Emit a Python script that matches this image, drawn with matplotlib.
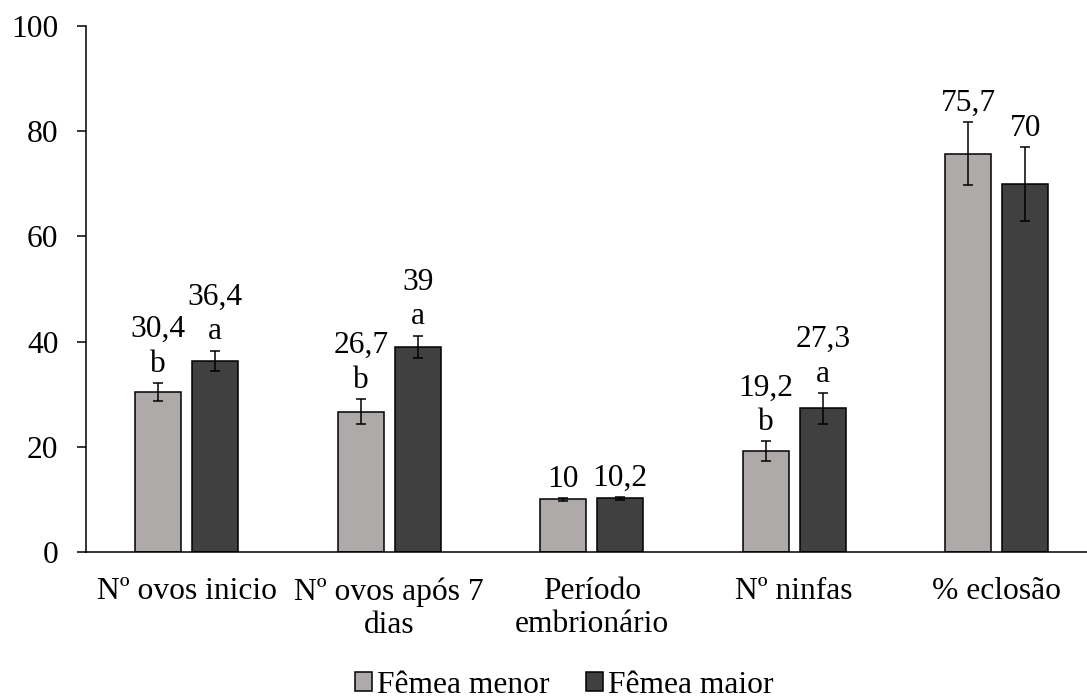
import numpy as np
from matplotlib import pyplot as plt

plt.rcParams['font.family'] = ['Liberation Serif', 'DejaVu Serif']

categorias = ['Nº ovos inicio', 'Nº ovos após 7\ndias', 'Período\nembrionário', 'Nº ninfas', '% eclosão']
menor = [30.4, 26.7, 10.0, 19.2, 75.7]
maior = [36.4, 39.0, 10.2, 27.3, 70.0]
erro_menor = [1.75, 2.4, 0.3, 1.9, 6.0]
erro_maior = [1.9, 2.15, 0.3, 2.95, 7.05]
letra_menor = ['b', 'b', '', 'b', '']
letra_maior = ['a', 'a', '', 'a', '']

cor_menor = '#AEAAAA'
cor_maior = '#404040'
fs = 22.7

fig = plt.figure(figsize=(10.87, 6.99), dpi=100)
ax = fig.add_axes([0.0787, 0.2103, 0.9213, 0.7525])

x = np.arange(len(categorias))
w = 0.227
off = 0.141

ax.bar(x - off, menor, w, color=cor_menor, edgecolor='black', linewidth=1.1,
       yerr=erro_menor, error_kw=dict(ecolor='black', elinewidth=1.1, capsize=3.8, capthick=1.1),
       label='Fêmea menor')
ax.bar(x + off, maior, w, color=cor_maior, edgecolor='black', linewidth=1.1,
       yerr=erro_maior, error_kw=dict(ecolor='black', elinewidth=1.1, capsize=3.8, capthick=1.1),
       label='Fêmea maior')

def rotulo(v, letra):
    s = f'{v:g}'.replace('.', ',')
    if letra:
        s = s + '\n' + letra
    return s

for i in range(len(categorias)):
    ax.annotate(rotulo(menor[i], letra_menor[i]), (x[i] - off, menor[i] + erro_menor[i]),
                xytext=(0, 3), textcoords='offset points', ha='center', va='bottom',
                fontsize=fs, linespacing=1.25)
    ax.annotate(rotulo(maior[i], letra_maior[i]), (x[i] + off, maior[i] + erro_maior[i]),
                xytext=(0, 3), textcoords='offset points', ha='center', va='bottom',
                fontsize=fs, linespacing=1.25)

ax.set_xlim(-0.5, 4.446)
ax.set_ylim(0, 100)
ax.set_yticks([0, 20, 40, 60, 80, 100])
ax.set_xticks(x)
ax.set_xticklabels(categorias, fontsize=fs, linespacing=1.2)
ax.tick_params(axis='x', length=0, pad=18)
ax.tick_params(axis='y', length=6.5, width=1.1, pad=13, labelsize=fs, direction='out')
for s in ['top', 'right']:
    ax.spines[s].set_visible(False)
for s in ['left', 'bottom']:
    ax.spines[s].set_linewidth(1.1)

fig.legend(loc='center', bbox_to_anchor=(0.519, 0.02), ncol=2, frameon=False,
           fontsize=fs, handlelength=0.54, handleheight=0.54, handletextpad=0.16,
           columnspacing=1.17, borderaxespad=0)

plt.savefig('out.png', dpi=100)
